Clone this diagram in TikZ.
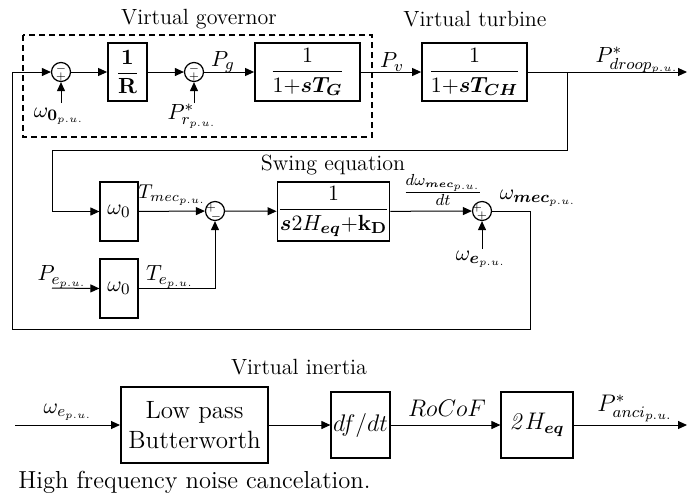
\documentclass[tikz,border=0pt]{standalone}
\usepackage{amsmath,bm}
\usetikzlibrary{arrows.meta,calc}
\begin{document}
\begin{tikzpicture}[x=0.5pt,y=-0.5pt, font=\fontsize{11}{13}\selectfont,
 blk/.style={draw, line width=0.9pt, inner sep=0pt, align=center},
 tblk/.style={draw, line width=0.6pt, inner sep=0pt, align=center},
 sumc/.style={draw, circle, line width=0.6pt, minimum size=9.5pt, inner sep=0pt},
 arr/.style={-{Triangle[length=4.5pt,width=4pt]}, line width=0.5pt},
 lbl/.style={inner sep=0pt},
 sgn/.style={font=\fontsize{5}{5}\selectfont, inner sep=0pt}]
\useasboundingbox (0,0) rectangle (688,499);

% dashed governor frame
\draw[dashed, dash pattern=on 3pt off 2pt, line width=0.6pt] (23,35) rectangle (372,137);

% top row
\node[sumc] (S1) at (61,72) {};
\node[sgn] (S1a) at ($(S1.center)+(0,-3)$) {$-$};
\node[sgn] (S1b) at ($(S1.center)+(0,4.5)$) {$+$};
\node[blk, minimum width=19.5pt, minimum height=29pt] (R) at (127.5,72) {$\dfrac{\mathbf{1}}{\mathbf{R}}$};
\node[sumc] (S2) at (194,72) {};
\node[sgn] (S2a) at ($(S2.center)+(0,-3)$) {$-$};
\node[sgn] (S2b) at ($(S2.center)+(0,4.5)$) {$+$};
\node[blk, minimum width=52.5pt, minimum height=29pt] (G) at (307.5,72) {$\dfrac{1}{1{+}\boldsymbol{sT_G}}$};
\node[blk, minimum width=52.5pt, minimum height=29pt] (T) at (474.5,72) {$\dfrac{1}{1{+}\boldsymbol{sT_{CH}}}$};
\coordinate (out1) at (687,72);
\coordinate (br) at (567,72);
\coordinate (b1) at (567,150);
\coordinate (b2) at (52,150);
\coordinate (w0in) at (61,103);
\coordinate (prin) at (194,103);

% swing row
\node[tblk, minimum width=19pt, minimum height=29.5pt] (W1) at (119,211.5) {$\omega_0$};
\node[tblk, minimum width=19pt, minimum height=29.5pt] (W2) at (119,288.5) {$\omega_0$};
\node[sumc] (S4) at (215,211) {};
\node[sgn] (S4a) at ($(S4.center)+(-4,-3.5)$) {$+$};
\node[sgn] (S4b) at ($(S4.center)+(1,5.5)$) {$-$};
\node[blk, minimum width=53.5pt, minimum height=29.5pt] (Sw) at (333.5,211.5) {$\dfrac{1}{\boldsymbol{s}2H_{\boldsymbol{eq}}{+}\mathbf{k_D}}$};
\node[sumc] (S3) at (482,211) {};
\node[sgn] (S3a) at ($(S3.center)+(-5,-3)$) {$+$};
\node[sgn] (S3b) at ($(S3.center)+(0,5)$) {$+$};
\coordinate (pin) at (52,288);
\coordinate (we) at (482,249);
\coordinate (fb1) at (530,329);
\coordinate (fb2) at (12,329);

% connectors
\draw[arr] (S3.east) -| (fb1) -- (fb2) |- (S1.west);
\draw[arr] (S1) -- (R);
\draw[arr] (R) -- (S2);
\draw[arr] (S2) -- (G);
\draw[arr] (G) -- (T);
\draw[arr] (T.east) -- (out1);
\draw[arr] (w0in) -- (S1.south);
\draw[arr] (prin) -- (S2.south);
\draw[arr] (br) -- (b1) -- (b2) |- (W1.west);
\draw[arr] (W1) -- (S4);
\draw[arr] (W2.east) -| (S4.south);
\draw[arr] (pin) -- (W2.west);
\draw[arr] (S4) -- (Sw);
\draw[arr] (Sw) -- (S3);
\draw[arr] (we) -- (S3.south);

% labels top
\node[lbl] (lvg) at (199,19) {Virtual governor};
\node[lbl] (lvt) at (475,19) {Virtual turbine};
\node[lbl] (lpg) at (223,62) {$P_g$};
\node[lbl] (lpv) at (392,62) {$P_v$};
\node[lbl] (lpd) at (637,60) {$P^*_{droop_{p.u.}}$};
\node[lbl] (lw0) at (59,116) {$\omega_{\mathbf{0}_{p.u.}}$};
\node[lbl] (lpr) at (192,116) {$P^*_{r_{p.u.}}$};
\node[lbl, anchor=west, font=\fontsize{10}{12}\selectfont] (ltm) at (138,195) {$T_{mec_{p.u.}}$};
\node[lbl] (lte) at (170,277) {$T_{e_{p.u.}}$};
\node[lbl] (lpe) at (62,277) {$P_{e_{p.u.}}$};
\node[lbl] (lse) at (333,165) {Swing equation};
\node[lbl] (ldw) at (443,190) {$\frac{d\omega_{\boldsymbol{mec}_{p.u.}}}{dt}$};
\node[lbl] (lwm) at (538,198) {$\omega_{\boldsymbol{mec}_{p.u.}}$};
\node[lbl] (lwe) at (481,259) {$\omega_{\boldsymbol{e}_{p.u.}}$};

% bottom row
\node[lbl] (lvi) at (299,367) {Virtual inertia};
\node[draw, line width=1pt, minimum width=73.5pt, minimum height=38pt, align=center, inner sep=0pt, font=\fontsize{12.5}{15}\selectfont] (LPF) at (194.5,425) {Low pass\\Butterworth};
\node[tblk, minimum width=29.5pt, minimum height=33pt, font=\fontsize{12}{14}\selectfont] (D) at (360.5,425) {$df/dt$};
\node[tblk, minimum width=36pt, minimum height=33pt, font=\fontsize{12}{14}\selectfont] (H) at (537,425) {$\mathit{2}H_{\boldsymbol{eq}}$};
\coordinate (win) at (15,425);
\coordinate (out2) at (687,425);
\draw[arr] (win) -- (LPF.west);
\draw[arr] (LPF) -- (D);
\draw[arr] (D) -- (H);
\draw[arr] (H.east) -- (out2);
\node[lbl] (lwi) at (68,412) {$\omega_{e_{p.u.}}$};
\node[lbl, font=\fontsize{12}{14}\selectfont] (lrc) at (447,408) {$RoCoF$};
\node[lbl, font=\fontsize{12}{14}\selectfont] (lpa) at (635,408) {$P^*_{anci_{p.u.}}$};
\node[lbl, anchor=west, font=\fontsize{12.3}{14}\selectfont] (lhf) at (18,482) {High frequency noise cancelation.};
\end{tikzpicture}
\end{document}
